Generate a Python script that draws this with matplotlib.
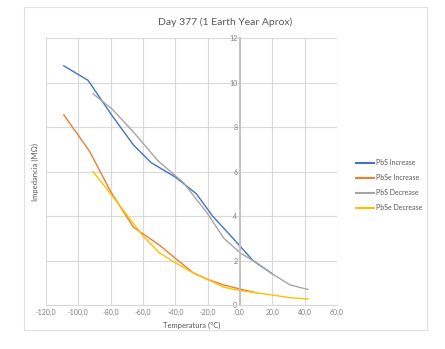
import matplotlib
matplotlib.use("Agg")
import matplotlib.pyplot as plt
from matplotlib.patches import Rectangle
from matplotlib.ticker import FuncFormatter

# data
pbs_inc_t = [-109, -94, -80, -66, -55, -40, -27, -17, -5, 8, 20]
pbs_inc_r = [10.75, 10.1, 8.6, 7.2, 6.4, 5.75, 5.0, 4.0, 3.05, 2.0, 1.4]

pbse_inc_t = [-109, -93, -80, -66, -50, -40, -29, -20, -10, 0, 10]
pbse_inc_r = [8.55, 6.9, 5.1, 3.5, 2.7, 2.1, 1.45, 1.15, 0.9, 0.72, 0.55]

pbs_dec_t = [-91, -79, -65, -51, -35, -20, -10, 0, 10, 20, 31, 42]
pbs_dec_r = [9.5, 8.8, 7.7, 6.5, 5.5, 4.1, 3.0, 2.35, 1.9, 1.4, 0.9, 0.7]

pbse_dec_t = [-91, -80, -70, -60, -50, -40, -28, -20, -10, 0, 10, 20, 31, 42]
pbse_dec_r = [6.0, 5.0, 4.05, 3.1, 2.35, 1.9, 1.4, 1.15, 0.8, 0.65, 0.55, 0.45, 0.33, 0.27]

x_ticks = [-120, -100, -80, -60, -40, -20, 0, 20, 40, 60]
y_ticks = [0, 2, 4, 6, 8, 10, 12]

plt.rcParams['font.family'] = ['Lato', 'DejaVu Sans']
txt = '#595959'
grid_c = '#D9D9D9'

fig = plt.figure(figsize=(4.45, 3.49), dpi=100)
ax = fig.add_axes([0.1034, 0.126, 0.654, 0.765])

# chart border
fig.patches.append(Rectangle((0.054, 0.054), 0.906, 0.926, transform=fig.transFigure,
                             fill=False, edgecolor='#E0E0E0', linewidth=0.8))

ax.plot(pbs_inc_t, pbs_inc_r, color='#4472C4', lw=1.0, label='PbS Increase')
ax.plot(pbse_inc_t, pbse_inc_r, color='#ED7D31', lw=1.0, label='PbSe Increase')
ax.plot(pbs_dec_t, pbs_dec_r, color='#A5A5A5', lw=1.0, label='PbS Decrease')
ax.plot(pbse_dec_t, pbse_dec_r, color='#FFC000', lw=1.0, label='PbSe Decrease')

ax.set_xlim(-120, 60)
ax.set_ylim(0, 12)
ax.set_xticks(x_ticks)
ax.set_yticks(y_ticks)
ax.xaxis.set_major_formatter(FuncFormatter(lambda v, p: f"{v:.1f}".replace('.', ',')))
ax.grid(True, color=grid_c, lw=0.8)
ax.set_axisbelow(True)

for s in ['top', 'right']:
    ax.spines[s].set_visible(False)
ax.spines['left'].set_position(('data', 0))
ax.spines['left'].set_color('#BFBFBF')
ax.spines['left'].set_linewidth(1.3)
ax.spines['bottom'].set_color(grid_c)
ax.tick_params(axis='both', length=0, labelsize=5, colors='#7F7F7F', pad=3)
ax.tick_params(axis='y', pad=2)

ax.set_xlabel('Temperatura (ºC)', fontsize=5.5, color=txt, labelpad=4)
ax.set_ylabel('Impedancia (MΩ)', fontsize=5.5, color=txt)
ax.yaxis.set_label_coords(-0.025, 0.5)
fig.text(0.505, 0.937, 'Day 377 (1 Earth Year Aprox)', fontsize=7.5, color=txt,
         ha='center', va='center')

leg = ax.legend(loc='upper left', bbox_to_anchor=(1.045, 0.57), fontsize=5, frameon=False,
                handlelength=2.6, handletextpad=0.2, labelspacing=1.15, labelcolor=txt)
for line in leg.get_lines():
    line.set_linewidth(1.5)

fig.savefig('out.png', dpi=100, facecolor='white')
